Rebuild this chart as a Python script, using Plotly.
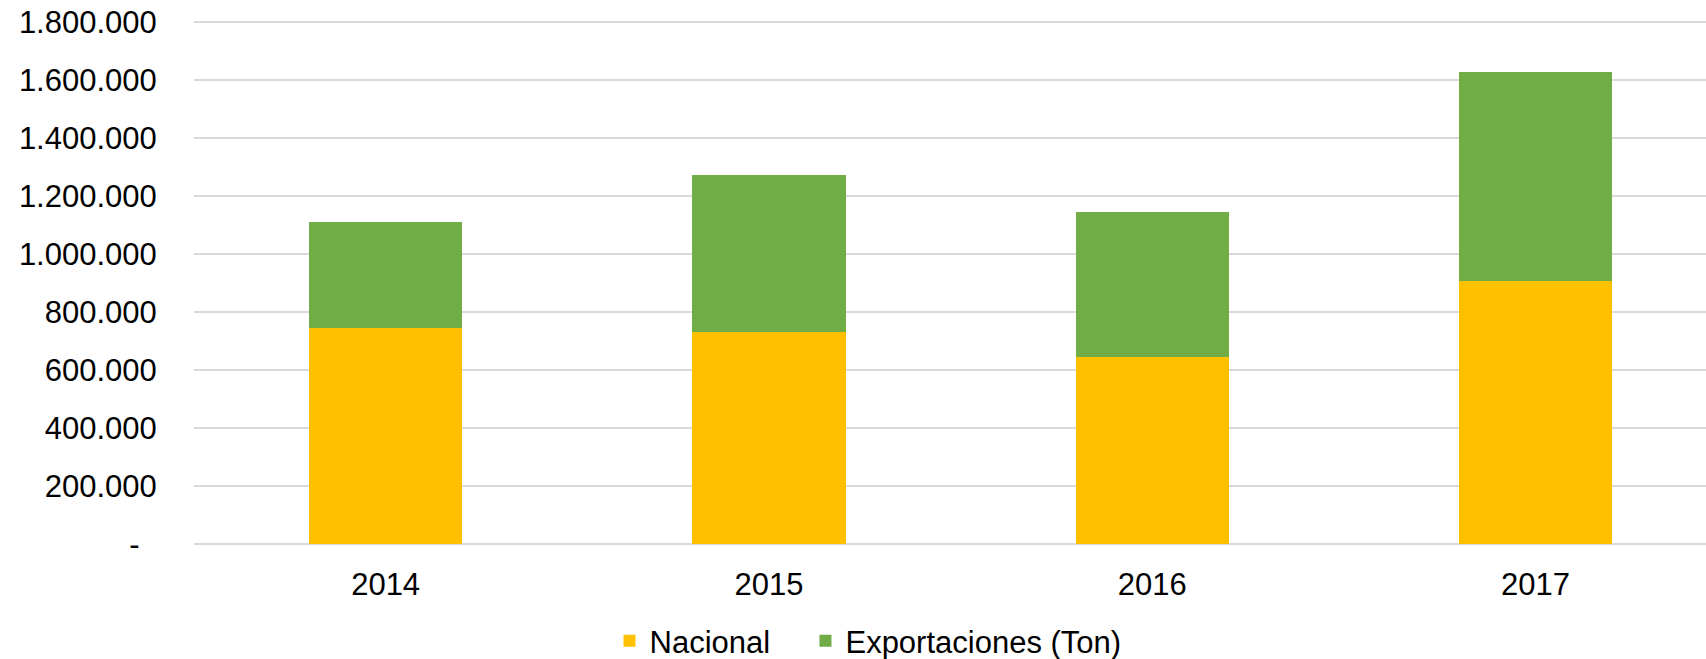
import plotly.graph_objects as go

years = ["2014", "2015", "2016", "2017"]
nacional = [746000, 730000, 645000, 908000]
exportaciones = [363000, 543000, 500000, 720000]
tick_vals = [0, 200000, 400000, 600000, 800000, 1000000, 1200000, 1400000, 1600000, 1800000]
tick_text = ["-\u00a0\u00a0", "200.000", "400.000", "600.000", "800.000", "1.000.000",
             "1.200.000", "1.400.000", "1.600.000", "1.800.000"]

FONT = "Liberation Sans, Arial, sans-serif"
FS = 31

fig = go.Figure()
fig.add_trace(go.Bar(x=years, y=nacional, name="Nacional", marker_color="#FFC000",
                     marker_line_width=0, width=0.4, legend="legend"))
fig.add_trace(go.Bar(x=years, y=exportaciones, name="Exportaciones (Ton)", marker_color="#70AD47",
                     marker_line_width=0, width=0.4, legend="legend2"))

leg_common = dict(orientation="h", xanchor="left", y=-0.1845, yanchor="middle",
                  font=dict(size=FS, family=FONT), bgcolor="rgba(0,0,0,0)")

fig.update_layout(
    barmode="stack",
    width=1706, height=659,
    margin=dict(l=194, r=0, t=18, b=115, autoexpand=False),
    paper_bgcolor="white", plot_bgcolor="white",
    font=dict(family=FONT, size=FS, color="#000000"),
    legend=dict(x=0.2748, **leg_common),
    legend2=dict(x=0.4044, **leg_common),
    showlegend=True,
)
fig.update_xaxes(type="category", range=[-0.5, 3.445], showgrid=False, showline=False,
                 automargin=False,
                 ticks="outside", ticklen=13, tickcolor="rgba(0,0,0,0)",
                 tickfont=dict(size=FS, family=FONT))
fig.update_yaxes(range=[0, 1813800], tickvals=tick_vals, ticktext=tick_text,
                 automargin=False, ticklabeloverflow="allow",
                 showgrid=True, gridcolor="#d9d9d9", gridwidth=1.5,
                 zeroline=True, zerolinecolor="#d9d9d9", zerolinewidth=1.5,
                 ticks="outside", ticklen=30, tickcolor="rgba(0,0,0,0)",
                 tickfont=dict(size=FS, family=FONT))

fig.write_html("out.html", config={"displayModeBar": False},
               post_script="document.body.style.margin='0';document.body.style.overflow='hidden';")
